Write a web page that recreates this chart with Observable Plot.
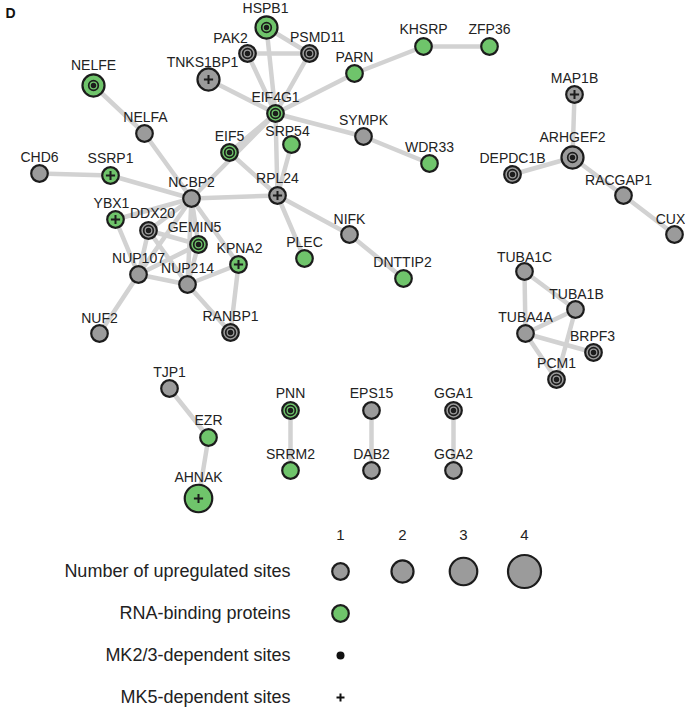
<!DOCTYPE html>
<html>
<head>
<meta charset="utf-8">
<script src="https://cdn.jsdelivr.net/npm/d3@7"></script>
<script src="https://cdn.jsdelivr.net/npm/@observablehq/plot@0.6"></script>
<style>
  html, body { margin: 0; padding: 0; background: #fff; }
  svg { font-family: "Liberation Sans", Arial, sans-serif; display: block; }
</style>
</head>
<body>
<div id="chart"></div>
<script>
// ---- Network nodes (layout) ----
const nodeNames = ["HSPB1","PAK2","PSMD11","TNKS1BP1","NELFE","EIF4G1","PARN","KHSRP","ZFP36","SYMPK","WDR33","SRP54","EIF5","NELFA","CHD6","SSRP1","NCBP2","RPL24","YBX1","DDX20","GEMIN5","KPNA2","NUP107","NUP214","NUF2","RANBP1","PLEC","NIFK","DNTTIP2","MAP1B","ARHGEF2","DEPDC1B","RACGAP1","CUX","TUBA1C","TUBA1B","TUBA4A","BRPF3","PCM1","TJP1","EZR","AHNAK","PNN","SRRM2","EPS15","DAB2","GGA1","GGA2"];
const nodeX = [266,247,309,208,93,275,354,423,489,363,429,291,229,144,39,110,191,277,115,148,198,238,138,187,99,230,304,349,403,574,572,512,623,674,524,575,525,593,556,169,208,198,290,290,371,371,453,453];
const nodeY = [27,53,53,79,85,113,73,46,46,136,163,144,152,133,173,175,198,195,219,230,244,264,274,284,333,332,258,234,278,94,157,174,195,234,271,309,333,352,379,388,437,498,410,470,410,470,410,470];
const upSites = [2,1,1,2,2,1,1,1,1,1,1,1,1,1,1,1,1,1,1,1,1,1,1,1,1,1,1,1,1,1,2,1,1,1,1,1,1,1,1,1,1,3,1,1,1,1,1,1];
const rnaBinding = ["HSPB1","NELFE","EIF4G1","PARN","KHSRP","ZFP36","WDR33","SRP54","EIF5","SSRP1","YBX1","GEMIN5","KPNA2","PLEC","DNTTIP2","EZR","AHNAK","PNN","SRRM2"];
const mk23Sites = ["HSPB1","PAK2","PSMD11","NELFE","EIF4G1","EIF5","DDX20","GEMIN5","RANBP1","ARHGEF2","DEPDC1B","BRPF3","PCM1","PNN","GGA1"];
const mk5Sites = ["TNKS1BP1","SSRP1","RPL24","YBX1","KPNA2","MAP1B","AHNAK"];
// label offsets relative to node
const labelDx = [-1,-17,8,-6,0,0,0,0,0,0,0,-4,0,1,0,0,0,0,-4,4,-4,1,0,0,0,0,0,0,-1,0,0,0,-5,-4,0,1,0,-1,0,0,0,0,0,0,0,0,0,0];
const labelDy = [-19,-15,-16,-17,-20,-16,-16,-17,-17,-16,-16,-13,-16,-16,-16,-17,-16,-17,-16,-17,-17,-16,-16,-16,-15,-16,-16,-15,-16,-16,-20,-16,-15,-15,-14,-15,-16,-16,-16,-16,-17,-21,-17,-16,-17,-16,-17,-16];

// ---- Interactions ----
const edgeFrom = ["HSPB1","HSPB1","PAK2","PAK2","PSMD11","TNKS1BP1","EIF4G1","PARN","KHSRP","EIF4G1","SYMPK","EIF4G1","SRP54","EIF4G1","EIF4G1","EIF5","NELFE","NELFA","CHD6","SSRP1","NCBP2","RPL24","RPL24","NIFK","NCBP2","NCBP2","NCBP2","NCBP2","NCBP2","NCBP2","YBX1","DDX20","DDX20","DDX20","GEMIN5","GEMIN5","NUP107","NUP214","KPNA2","NUP214","NUP107","MAP1B","ARHGEF2","ARHGEF2","RACGAP1","TUBA1C","TUBA1C","TUBA4A","TUBA4A","TUBA4A","TUBA1B","TJP1","EZR","PNN","EPS15","GGA1"];
const edgeTo   = ["PSMD11","EIF4G1","PSMD11","EIF4G1","EIF4G1","EIF4G1","PARN","KHSRP","ZFP36","SYMPK","WDR33","RPL24","RPL24","EIF5","NCBP2","RPL24","NELFA","NCBP2","SSRP1","NCBP2","RPL24","PLEC","NIFK","DNTTIP2","YBX1","DDX20","GEMIN5","NUP107","NUP214","KPNA2","NUP107","NUP107","GEMIN5","NUP214","NUP107","NUP214","NUP214","KPNA2","RANBP1","RANBP1","NUF2","ARHGEF2","DEPDC1B","RACGAP1","CUX","TUBA1B","TUBA4A","TUBA1B","BRPF3","PCM1","PCM1","EZR","AHNAK","SRRM2","DAB2","GGA2"];

// ---- Legend ----
const legendRows = ["Number of upregulated sites","RNA-binding proteins","MK2/3-dependent sites","MK5-dependent sites"];
const legendSizes = [1,2,3,4];

// ---- build tables ----
const nodes = nodeNames.map((name, i) => ({
  name, x: nodeX[i], y: nodeY[i], sites: upSites[i],
  rbp: rnaBinding.includes(name), mk2: mk23Sites.includes(name), mk5: mk5Sites.includes(name),
  lx: nodeX[i] + labelDx[i], ly: nodeY[i] + labelDy[i]
}));
const byName = new Map(nodes.map(d => [d.name, d]));
const edges = edgeFrom.map((s, i) => ({source: byName.get(s), target: byName.get(edgeTo[i])}));

// legend layout in the same coordinate frame
const legendColX = [340, 402, 463, 524];
const legendRowY = [571, 613, 655, 697];
const legendLabelX = 290;
const legSizeItems = legendSizes.map((s, i) => ({x: legendColX[i], y: legendRowY[0], sites: s, label: String(s)}));
const legRowItems = legendRows.map((t, i) => ({x: legendLabelX, y: legendRowY[i], text: t}));
const legGreen = [{x: legendColX[0], y: legendRowY[1], sites: legendSizes[0]}];

const GRAY = "#9b9b9b", GREEN = "#6fc46b", EDGE = "#d2d2d2", INK = "#1c1c1c";
const plusSymbol = {
  draw(context, size) {
    const r = Math.sqrt(size / Math.PI);
    context.moveTo(-r, 0); context.lineTo(r, 0);
    context.moveTo(0, -r); context.lineTo(0, r);
  }
};

const chart = Plot.plot({
  width: 685,
  height: 708,
  margin: 0,
  x: {domain: [0, 685], range: [0, 685], axis: null},
  y: {domain: [0, 708], range: [0, 708], axis: null},
  r: {type: "linear", domain: [1, 4], range: [8.3, 16.5]},
  marks: [
    Plot.text(["D"], {x: 10, y: 13, text: d => d, fontSize: 14, fontWeight: "bold", fill: "#111"}),
    // edges
    Plot.link(edges, {x1: d => d.source.x, y1: d => d.source.y, x2: d => d.target.x, y2: d => d.target.y,
      stroke: EDGE, strokeWidth: 4.5, strokeLinecap: "round"}),
    // nodes
    Plot.dot(nodes, {x: "x", y: "y", r: "sites", fill: d => d.rbp ? GREEN : GRAY, stroke: INK, strokeWidth: 2.2}),
    // MK2/3 marker: ring + dot
    Plot.dot(nodes.filter(d => d.mk2), {x: "x", y: "y", r: 4.8, fill: "none", stroke: INK, strokeWidth: 1.7}),
    Plot.dot(nodes.filter(d => d.mk2), {x: "x", y: "y", r: 2.7, fill: INK}),
    // MK5 marker: plus
    Plot.dot(nodes.filter(d => d.mk5), {x: "x", y: "y", r: 4.6, symbol: plusSymbol, fill: "none", stroke: INK, strokeWidth: 2}),
    // labels
    Plot.text(nodes, {x: "lx", y: "ly", text: "name", fontSize: 14, fill: "#222"}),
    // legend
    Plot.text(legSizeItems, {x: "x", y: d => d.y - 36, text: "label", fontSize: 15, fill: "#222"}),
    Plot.dot(legSizeItems, {x: "x", y: "y", r: "sites", fill: GRAY, stroke: INK, strokeWidth: 2.2}),
    Plot.dot(legGreen, {x: "x", y: "y", r: "sites", fill: GREEN, stroke: INK, strokeWidth: 2.2}),
    Plot.dot([legendRows[2]], {x: legendColX[0], y: legendRowY[2], r: 4, fill: "#111"}),
    Plot.dot([legendRows[3]], {x: legendColX[0], y: legendRowY[3], r: 4, symbol: plusSymbol, fill: "none", stroke: "#111", strokeWidth: 2}),
    Plot.text(legRowItems, {x: "x", y: "y", text: "text", textAnchor: "end", fontSize: 18, fill: "#222"})
  ]
});
document.getElementById("chart").appendChild(chart);
</script>
</body>
</html>
